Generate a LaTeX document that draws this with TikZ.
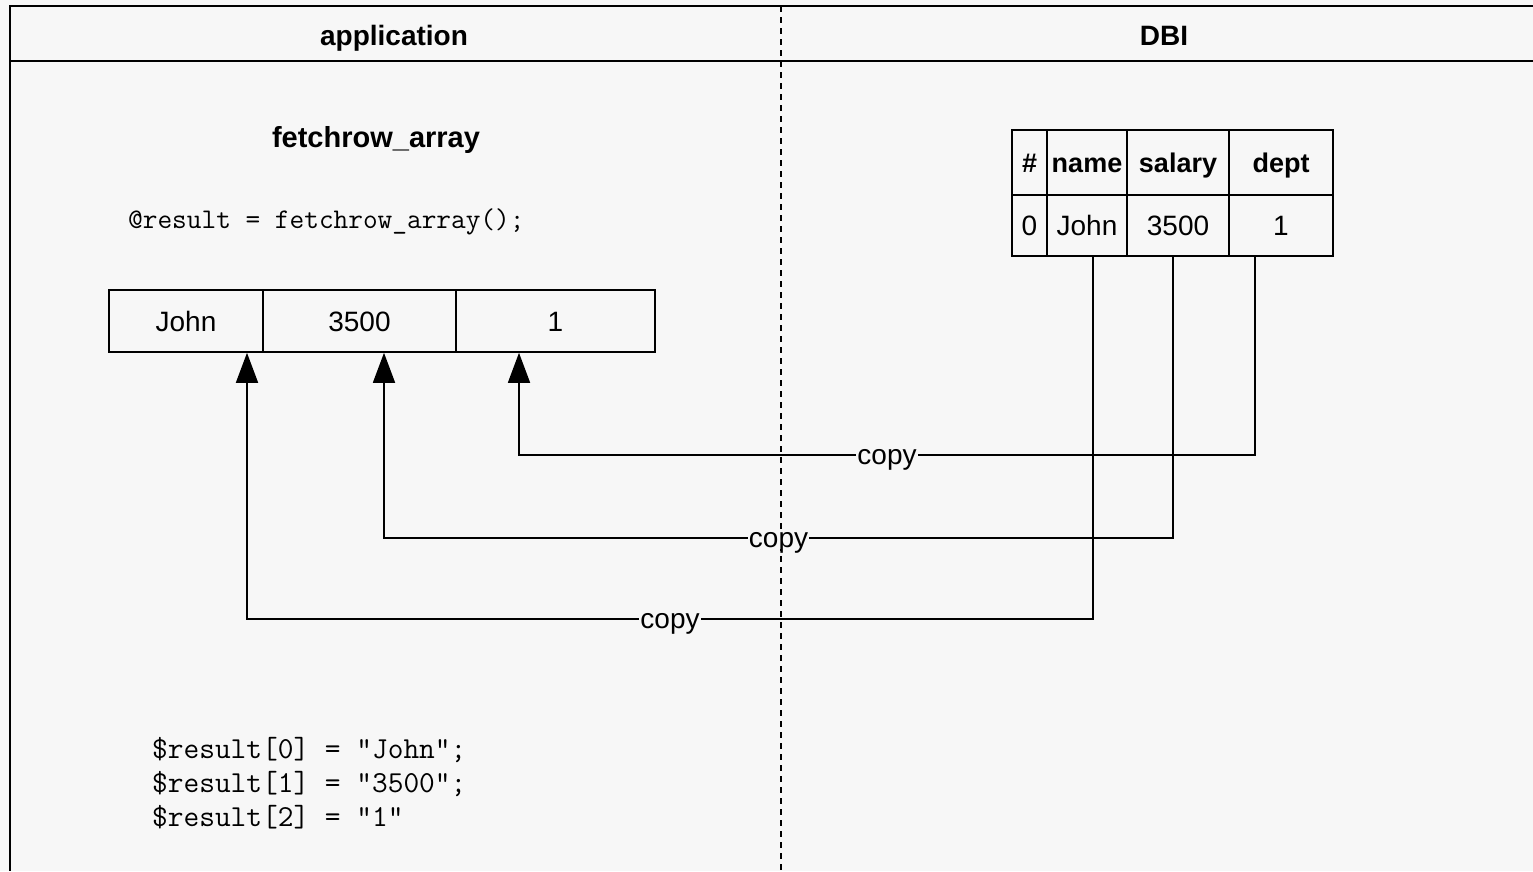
\documentclass[tikz,border=0pt]{standalone}
\usepackage{fontspec}
\setmainfont{Liberation Sans}
\usetikzlibrary{arrows.meta}
\definecolor{bgc}{HTML}{F7F7F7}
\begin{document}
\begin{tikzpicture}[x=1pt,y=-1pt,
  frame/.style={line width=1.8pt, draw=black},
  divider/.style={line width=1.5pt, dash pattern=on 6pt off 5pt},
  cell/.style={draw, line width=1.6pt, inner sep=0pt, text height=20pt, text depth=0pt, font=\fontsize{28}{30}\selectfont},
  hcell/.style={cell, text height=19.5pt, font=\bfseries\fontsize{27}{30}\selectfont},
  title/.style={inner sep=0pt, anchor=base, font=\bfseries\fontsize{28}{30}\selectfont},
  code/.style={inner sep=0pt, anchor=west, align=left, font=\ttfamily\fontsize{28.5}{34}\selectfont},
  conn/.style={line width=1.6pt, -{Triangle[length=30pt,width=22pt]}},
  copylbl/.style={fill=bgc, inner sep=1pt, text height=14.5pt, text depth=0pt, yshift=-2.5pt, font=\fontsize{28}{30}\selectfont}]
\fill[bgc] (0,0) rectangle (1533,871);
\useasboundingbox (0,0) rectangle (1533,871);
% frame
\draw[frame] (1533,6) -- (10,6) -- (10,871);
\draw[frame] (10,61) -- (1533,61);
\draw[divider] (781,6) -- (781,871);
% headers
\node[title] (happ) at (394,45) {application};
\node[title] (hdbi) at (1164,45) {DBI};
\node[title, font=\bfseries\fontsize{29}{30}\selectfont] (ftitle) at (376,147) {fetchrow\_array};
\node[code] (call) at (128,222) {@result = fetchrow\_array();};
% application array
\node[cell, minimum width=154pt, minimum height=62pt] (aJohn) at (186,321) {John};
\node[cell, minimum width=193pt, minimum height=62pt] (aSal) at (359.5,321) {3500};
\node[cell, minimum width=199pt, minimum height=62pt] (aDept) at (555.5,321) {1};
% DBI table
\node[hcell, minimum width=35pt, minimum height=65pt] (hNum) at (1029.5,162.5) {\#};
\node[hcell, minimum width=80pt, minimum height=65pt] (hName) at (1087,162.5) {name};
\node[hcell, minimum width=102pt, minimum height=65pt] (hSal) at (1178,162.5) {salary};
\node[hcell, minimum width=104pt, minimum height=65pt] (hDept) at (1281,162.5) {dept};
\node[cell, minimum width=35pt, minimum height=61pt] (dNum) at (1029.5,225.5) {0};
\node[cell, minimum width=80pt, minimum height=61pt] (dJohn) at (1087,225.5) {John};
\node[cell, minimum width=102pt, minimum height=61pt] (dSal) at (1178,225.5) {3500};
\node[cell, minimum width=104pt, minimum height=61pt] (dDept) at (1281,225.5) {1};
% connectors
\coordinate (k1) at (247,619);
\coordinate (k2) at (384,538);
\coordinate (k3) at (519,455);
\draw[conn] ([xshift=6pt]dJohn.south) |- node[copylbl, pos=0.75] {copy} (k1) -- ([xshift=61pt]aJohn.south);
\draw[conn] ([xshift=-5pt]dSal.south) |- node[copylbl, pos=0.75] {copy} (k2) -- ([xshift=24.5pt]aSal.south);
\draw[conn] ([xshift=-26pt]dDept.south) |- node[copylbl, pos=0.75] {copy} (k3) -- ([xshift=-36.5pt]aDept.south);
% result code
\node[code, font=\ttfamily\fontsize{30.5}{34}\selectfont] (res) at (152,783) {\$result[0] = "John";\\\$result[1] = "3500";\\\$result[2] = "1"};
\end{tikzpicture}
\end{document}
